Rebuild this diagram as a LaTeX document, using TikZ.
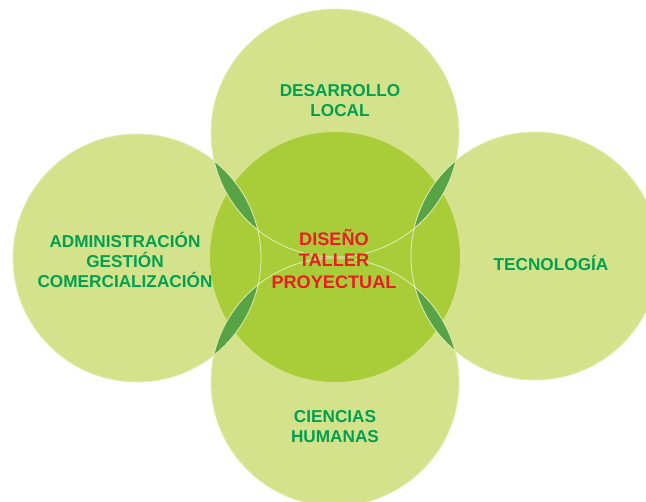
\documentclass[tikz,border=0pt]{standalone}
\usepackage{fontspec}
\setmainfont{Liberation Sans}
\definecolor{outerc}{RGB}{211,226,139}
\definecolor{centerc}{RGB}{168,205,57}
\definecolor{lensc}{RGB}{88,163,70}
\definecolor{rimc}{RGB}{228,238,180}
\definecolor{txtg}{RGB}{0,160,80}
\definecolor{txtr}{RGB}{236,28,36}
\begin{document}
\begin{tikzpicture}[x=0.75pt,y=-0.75pt,
  lbl/.style={font=\bfseries\fontsize{12.9pt}{15pt}\selectfont, text=txtg, align=center, inner sep=0pt},
  clbl/.style={font=\bfseries\fontsize{13.6pt}{16.2pt}\selectfont, text=txtr, align=center, inner sep=0pt},
  rim/.style={draw=rimc, line width=0.6pt}]
\clip (0,0) rectangle (646,502);
\coordinate (T) at (335,133);
\coordinate (L) at (137,258);
\coordinate (R) at (535,256);
\coordinate (B) at (335,382);
\coordinate (C) at (335,257);
\foreach \p in {T,L,R,B} \fill[outerc] (\p) circle (124);
\fill[centerc] (C) circle (125);
\begin{scope}\clip (T) circle (124); \fill[lensc] (L) circle (124);\end{scope}
\begin{scope}\clip (T) circle (124); \fill[lensc] (R) circle (124);\end{scope}
\begin{scope}\clip (B) circle (124); \fill[lensc] (L) circle (124);\end{scope}
\begin{scope}\clip (B) circle (124); \fill[lensc] (R) circle (124);\end{scope}
\foreach \p in {T,L,R,B} \draw[rim] (\p) circle (124);
\node[lbl] (dl) at (340,101) {DESARROLLO\\LOCAL};
\node[lbl] (ag) at (125,260) {ADMINISTRACIÓN\\GESTIÓN\\COMERCIALIZACIÓN};
\node[lbl] (te) at (551,263) {TECNOLOGÍA};
\node[lbl] (ch) at (335,427) {CIENCIAS\\HUMANAS};
\node[clbl] (dt) at (334,259) {DISEÑO\\TALLER\\PROYECTUAL};
\end{tikzpicture}
\end{document}
